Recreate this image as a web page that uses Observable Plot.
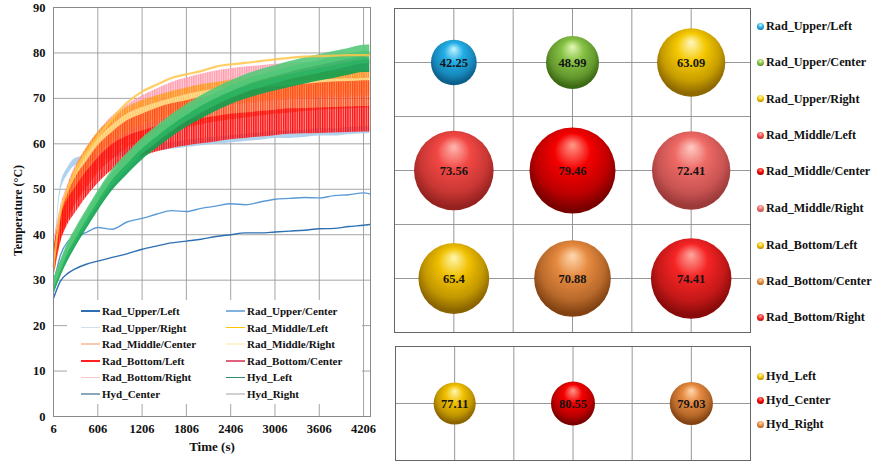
<!DOCTYPE html>
<html><head><meta charset="utf-8">
<script src="https://cdn.jsdelivr.net/npm/d3@7"></script>
<script src="https://cdn.jsdelivr.net/npm/@observablehq/plot@0.6"></script>
<style>
body{margin:0;background:#fff;}
#wrap{position:relative;width:876px;height:466px;overflow:hidden;font-family:"Liberation Serif","Times New Roman",serif;font-weight:bold;color:#111;}
.abs{position:absolute;white-space:nowrap;}
</style></head><body><div id="wrap"></div>
<script>
// ---------- DATA ----------
const times = [6,100,200,300,450,606,800,1000,1206,1400,1606,1806,2006,2206,2406,2606,2806,3006,3206,3406,3606,3806,4006,4206,4290];
const xTicks = [6,606,1206,1806,2406,3006,3606,4206];
const yTicks = [0,10,20,30,40,50,60,70,80,90];
const seriesNames = ["Rad_Upper/Left","Rad_Upper/Center","Rad_Upper/Right","Rad_Middle/Left","Rad_Middle/Center","Rad_Middle/Right","Rad_Bottom/Left","Rad_Bottom/Center","Rad_Bottom/Right","Hyd_Left","Hyd_Center","Hyd_Right"];
const radUpperLeft   = [26,29.8,31.5,32.5,33.5,34.2,35,35.8,36.8,37.5,38.2,38.6,39,39.6,40,40.4,40.4,40.6,40.8,41,41.3,41.4,41.8,42.1,42.25];
const radUpperCenter = [29,35.5,38.5,39.5,40.5,41.6,41.2,42.8,43.6,44.5,45.3,45.1,45.8,46.3,46.8,46.6,47.2,47.8,48,48.2,48.1,48.6,48.8,49.2,49];
const radUpperRight  = [30,50,54,56,56.5,57,57.6,58.2,58.8,59.2,59.6,60,60.4,60.7,61,61.3,61.6,62,62,62.2,62.5,62.5,62.8,63,63.1];
const radMiddleLeft  = [34,42,48,52,56.5,60,63,65.5,67,68,69,69.8,70.5,71,71.5,72,72.3,72.6,72.8,73,73.2,73.3,73.5,73.5,73.56];
const radMiddleCenter= [33,45,50,54,58,61.5,65.5,69,71.5,73,74.5,75.3,76,77,77.5,77.8,78.2,78.6,78.9,79.2,79.3,79.4,79.5,79.5,79.46];
const radMiddleRight = [33,41,47,51,55.5,59,62,64.5,66,67,68,68.8,69.5,70,70.5,70.9,71.2,71.5,71.7,71.9,72.1,72.2,72.3,72.4,72.41];
const radBottomLeft  = [34,41,45,47.5,51,54,57,58.8,60,61,61.8,62.3,62.8,63.2,63.7,64,64.3,64.6,64.9,65,65.1,65.2,65.3,65.4,65.4];
const radBottomCenter= [33,41,46,49.5,53,56.5,59.5,62,63.5,64.8,65.8,66.5,67.2,67.8,68.3,68.7,69.1,69.5,69.8,70.1,70.4,70.6,70.7,70.88,70.9];
const radBottomRight = [34,42,47,51,55,58.5,62,64.5,66.5,68,69.5,70.5,71.3,72,72.5,72.9,73.2,73.5,73.7,73.9,74.1,74.2,74.3,74.41,74.4];
const hydLeft        = [28,32,35.5,38.5,42.5,46.5,51,54.5,57.8,60.3,62.8,65,66.8,68.5,70,71.2,72.2,73,73.8,74.5,75.2,75.8,76.5,77.1,77.1];
const hydCenter      = [29,33,37,40,44.2,48.3,53,56.6,60,62.6,65.2,67.4,69.4,71.1,72.6,74,75.1,76,76.9,77.7,78.4,79.1,79.8,80.5,80.55];
const hydRight       = [28.5,32.5,36.2,39.3,43.4,47.5,52,55.6,59,61.5,64,66.2,68.1,69.8,71.3,72.6,73.7,74.6,75.5,76.2,76.9,77.6,78.3,79,79.03];
const seriesValues = [radUpperLeft,radUpperCenter,radUpperRight,radMiddleLeft,radMiddleCenter,radMiddleRight,radBottomLeft,radBottomCenter,radBottomRight,hydLeft,hydCenter,hydRight];
// half-width of the oscillation band of each series (°C)
const noiseHalf = [0,0,0.8,2.5,0,2,2.8,3,4,1.4,1.2,1.4];

const bubbleNames = ["Rad_Upper/Left","Rad_Upper/Center","Rad_Upper/Right","Rad_Middle/Left","Rad_Middle/Center","Rad_Middle/Right","Rad_Bottom/Left","Rad_Bottom/Center","Rad_Bottom/Right"];
const bubbleValues = [42.25,48.99,63.09,73.56,79.46,72.41,65.4,70.88,74.41];
const bubbleCols = [1,2,3,1,2,3,1,2,3];
const bubbleRows = [1,1,1,2,2,2,3,3,3];
const hydNames = ["Hyd_Left","Hyd_Center","Hyd_Right"];
const hydValues = [77.11,80.55,79.03];
const hydCols = [1,2,3];

// ---------- STYLES ----------
const lineColors = ["#2E6FB2","#5B9BD5","#A8CDEB","#FF9A1A","#FFC54A","#FFE08A","#FF1010","#FF4A1A","#FF9CAE","#10A050","#55C97A","#2FB564"];
const striped = [false,false,false,true,false,true,true,true,true,false,false,false];
const legendColors = ["#2E6FB2","#7FB2E0","#D6DEE8","#FFC000","#F8CBAD","#FFF2CC","#FF2020","#E0607A","#F6C6CC","#2E8B6E","#8AA8B8","#D0D0D0"];
const drawOrder = [0,1,2,8,3,5,7,6,9,11,10,4];
const sphere = {
  "Rad_Upper/Left":["#C8F4FF","#22AEE6","#0B5E8A"],
  "Rad_Upper/Center":["#E4F8B8","#86C245","#3C6914"],
  "Rad_Upper/Right":["#FFF8C0","#F5C800","#8E6800"],
  "Rad_Middle/Left":["#FFB8B0","#F24844","#962220"],
  "Rad_Middle/Center":["#FF9A8A","#F50000","#7A0000"],
  "Rad_Middle/Right":["#FFCCC4","#EE6A66","#9C3A3A"],
  "Rad_Bottom/Left":["#FFF8B0","#F0C000","#8A6400"],
  "Rad_Bottom/Center":["#FFD8B0","#E68A40","#824212"],
  "Rad_Bottom/Right":["#FFA89E","#F52424","#880A0A"],
  "Hyd_Left":["#FFF8B0","#F0C000","#8A6400"],
  "Hyd_Center":["#FF9A8A","#F50000","#7A0000"],
  "Hyd_Right":["#FFD8B0","#E68A40","#824212"]
};
const gid = n => "g_" + n.replace(/[^A-Za-z]/g, "");
const pid = i => "p_" + i;

const wrap = document.getElementById("wrap");
// gradient / pattern defs
const svgNS = "http://www.w3.org/2000/svg";
const defsSvg = document.createElementNS(svgNS, "svg");
defsSvg.setAttribute("width", 0); defsSvg.setAttribute("height", 0);
defsSvg.style.position = "absolute";
let defsHtml = "<defs>";
for (const [n, c] of Object.entries(sphere)) {
  const mid = d3.interpolateRgb(c[1], c[2])(0.45);
  defsHtml += `<radialGradient id="${gid(n)}" cx="50%" cy="42%" r="60%" fx="50%" fy="20%">
    <stop offset="0%" stop-color="${c[0]}"/><stop offset="35%" stop-color="${c[1]}"/>
    <stop offset="70%" stop-color="${mid}"/><stop offset="92%" stop-color="${c[2]}"/></radialGradient>`;
}
lineColors.forEach((c, i) => {
  defsHtml += `<pattern id="${pid(i)}" width="2.3" height="20" patternUnits="userSpaceOnUse">
    <rect width="2.3" height="20" fill="${c}" fill-opacity="0.45"/><rect width="1.3" height="20" fill="${c}"/></pattern>`;
});
defsHtml += "</defs>";
defsSvg.innerHTML = defsHtml;
wrap.appendChild(defsSvg);

// ---------- LEFT LINE CHART ----------
const rows = [];
seriesNames.forEach((name, i) => times.forEach((t, j) => {
  const v = seriesValues[i][j];
  rows.push({name, t, v, lo: v - noiseHalf[i], hi: v + noiseHalf[i]});
}));
const seriesMarks = [];
for (const i of drawOrder) {
  const d = rows.filter(r => r.name === seriesNames[i]);
  if (noiseHalf[i] > 0) {
    seriesMarks.push(Plot.areaY(d, {x: "t", y1: "lo", y2: "hi", fill: striped[i] ? `url(#${pid(i)})` : lineColors[i], fillOpacity: striped[i] ? 1 : 0.9, curve: "monotone-x"}));
  } else {
    seriesMarks.push(Plot.lineY(d, {x: "t", y: "v", stroke: lineColors[i], strokeWidth: i === 4 ? 2.2 : 1.4, strokeOpacity: i === 4 ? 0.85 : 1, curve: "monotone-x"}));
  }
}
const leftChart = Plot.plot({
  width: 380, height: 466,
  marginLeft: 53, marginRight: 10, marginTop: 7, marginBottom: 50,
  style: {fontFamily: "Liberation Serif, Times New Roman, serif", fontSize: "12.5px", fontWeight: "bold", color: "#111", background: "transparent"},
  x: {domain: [6, 4300]},
  y: {domain: [0, 90]},
  marks: [
    Plot.gridX(xTicks, {stroke: "#9a9a9a", strokeOpacity: 1, strokeWidth: 0.9}),
    Plot.gridY(yTicks, {stroke: "#9a9a9a", strokeOpacity: 1, strokeWidth: 0.9}),
    ...seriesMarks,
    Plot.frame({stroke: "#8a8a8a"}),
    Plot.axisX(xTicks, {tickSize: 0, tickPadding: 8, label: null, fill: "#111", tickFormat: d => String(d)}),
    Plot.axisY(yTicks, {tickSize: 0, tickPadding: 8, label: null, fill: "#111", tickFormat: d => String(d)})
  ]
});
leftChart.style.position = "absolute"; leftChart.style.left = "0px"; leftChart.style.top = "0px";
wrap.appendChild(leftChart);

function addDiv(html, css) {
  const d = document.createElement("div");
  d.className = "abs"; d.innerHTML = html; Object.assign(d.style, css);
  wrap.appendChild(d); return d;
}
addDiv("Time (s)", {left: "170px", top: "439px", width: "84px", textAlign: "center", fontSize: "13px"});
addDiv("Temperature (°C)", {left: "-42px", top: "203px", width: "120px", textAlign: "center", fontSize: "12px", transform: "rotate(-90deg)"});

// inner legend box
addDiv("", {left: "67px", top: "300px", width: "295px", height: "104px", background: "#fff"});
seriesNames.forEach((n, i) => {
  const row = Math.floor(i / 2), col = i % 2;
  const y = 311 + row * 16.6;
  const x0 = col === 0 ? 81 : 226;
  addDiv("", {left: x0 + "px", top: (y - 0.75) + "px", width: "19px", height: "1.5px", background: legendColors[i]});
  addDiv(n, {left: (x0 + 21) + "px", top: (y - 8) + "px", fontSize: "11px", lineHeight: "16px"});
});

// ---------- RIGHT BUBBLE CHARTS ----------
const gridVals = [1, 1.5, 2, 2.5, 3];
const bubbles = bubbleNames.map((n, i) => ({n, v: bubbleValues[i], c: bubbleCols[i], r: bubbleRows[i]}));
const topChart = Plot.plot({
  width: 358, height: 326, margin: 1,
  style: {background: "transparent"},
  x: {domain: [0.5, 3.5], axis: null},
  y: {domain: [3.5, 0.5], axis: null},
  r: {type: "linear", domain: [0, 79.46], range: [0, 43]},
  color: {type: "identity"},
  marks: [
    Plot.gridX(gridVals, {stroke: "#8c8c8c", strokeOpacity: 1, strokeWidth: 0.9}),
    Plot.gridY(gridVals, {stroke: "#8c8c8c", strokeOpacity: 1, strokeWidth: 0.9}),
    Plot.frame({stroke: "#666"}),
    Plot.dot(bubbles, {x: "c", y: "r", r: "v", fill: d => `url(#${gid(d.n)})`, stroke: "none"}),
    Plot.text(bubbles, {x: "c", y: "r", text: d => String(d.v), fontFamily: "Liberation Serif, Times New Roman, serif", fontWeight: "bold", fontSize: 12.5, fill: "#141414"})
  ]
});
topChart.style.position = "absolute"; topChart.style.left = "393px"; topChart.style.top = "7px";
wrap.appendChild(topChart);

const hyd = hydNames.map((n, i) => ({n, v: hydValues[i], c: hydCols[i], r: 1}));
const botChart = Plot.plot({
  width: 357, height: 116, margin: 1,
  style: {background: "transparent"},
  x: {domain: [0.5, 3.5], axis: null},
  y: {domain: [1.5, 0.5], axis: null},
  r: {type: "linear", domain: [0, 80.55], range: [0, 22]},
  color: {type: "identity"},
  marks: [
    Plot.gridX(gridVals, {stroke: "#8c8c8c", strokeOpacity: 1, strokeWidth: 0.9}),
    Plot.gridY([1], {stroke: "#8c8c8c", strokeOpacity: 1, strokeWidth: 0.9}),
    Plot.frame({stroke: "#666"}),
    Plot.dot(hyd, {x: "c", y: "r", r: "v", fill: d => `url(#${gid(d.n)})`, stroke: "none"}),
    Plot.text(hyd, {x: "c", y: "r", text: d => String(d.v), fontFamily: "Liberation Serif, Times New Roman, serif", fontWeight: "bold", fontSize: 12.5, fill: "#141414"})
  ]
});
botChart.style.position = "absolute"; botChart.style.left = "394px"; botChart.style.top = "345px";
wrap.appendChild(botChart);

// right legends
const legYs = [26, 62, 98.5, 135, 171, 208, 245, 281, 317];
function legendItem(n, y) {
  const c = sphere[n];
  addDiv("", {left: "757px", top: (y - 3.5) + "px", width: "7px", height: "7px", borderRadius: "50%", background: `radial-gradient(circle at 50% 30%, ${c[0]}, ${c[1]} 45%, ${c[2]})`});
  addDiv(n, {left: "766px", top: (y - 9) + "px", fontSize: "12.2px", lineHeight: "18px"});
}
bubbleNames.forEach((n, i) => legendItem(n, legYs[i]));
const hydLegYs = [376, 400, 424];
hydNames.forEach((n, i) => legendItem(n, hydLegYs[i]));
</script></body></html>
